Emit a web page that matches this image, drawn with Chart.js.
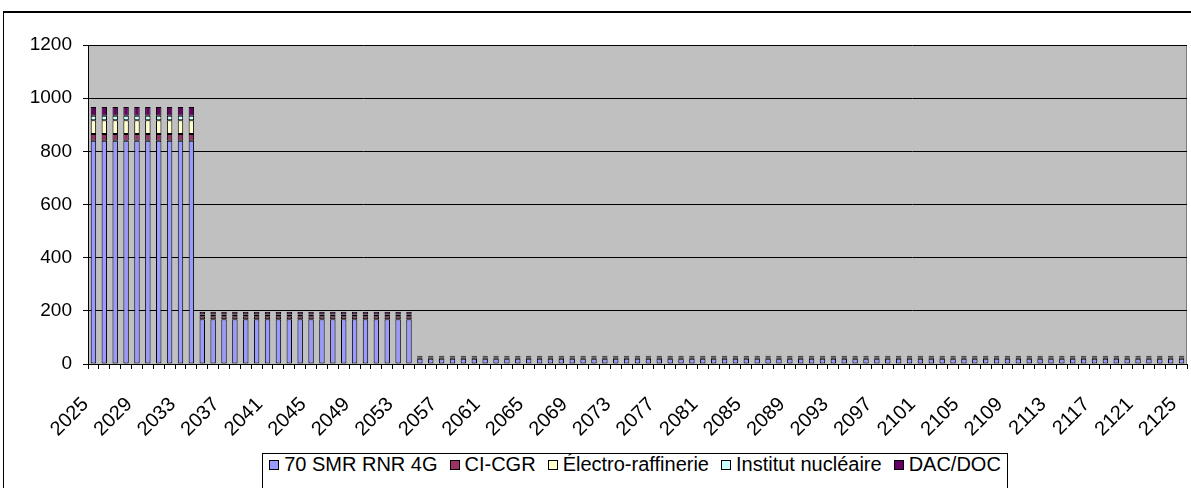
<!DOCTYPE html>
<html lang="fr">
<head>
    <meta charset="UTF-8">
    <title>Puissance</title>
    <script src="https://cdn.jsdelivr.net/npm/chart.js"></script>
    <style>
        body {
            margin: 0;
            padding: 0;
            background: #fff;
            font-family: 'Liberation Sans', Arial, sans-serif;
        }
        .frame {
            position: absolute;
            left: 3px;
            top: 11px;
            width: 1300px;
            height: 600px;
            border-left: 1px solid #000;
            border-top: 2px solid #000;
        }
        .chart-box {
            position: absolute;
            left: 0;
            top: 0;
            width: 1191px;
            height: 488px;
        }
        #legend {
            position: absolute;
            left: 262px;
            top: 453px;
            width: 744px;
            height: 60px;
            border: 1px solid #000;
            background: #fff;
            display: flex;
            justify-content: center;
            align-items: flex-start;
            font-size: 20px;
            line-height: 20px;
            color: #000;
            white-space: nowrap;
        }
        #legend .item {
            display: flex;
            align-items: center;
            margin: 0 6px;
            height: 20px;
        }
        #legend .box {
            width: 8px;
            height: 8px;
            border: 1px solid #000;
            margin-right: 5px;
            margin-top: 1px;
        }
    </style>
</head>
<body>
    <div class="frame"></div>
    <div class="chart-box">
        <canvas id="chart"></canvas>
    </div>
    <div id="legend"></div>

    <script>
        // années 2025 -> 2125
        const years = Array.from({length: 101}, (_, i) => String(2025 + i));

        const seriesNames = ['70 SMR RNR 4G', 'CI-CGR', 'Électro-raffinerie', 'Institut nucléaire', 'DAC/DOC'];
        const seriesColors = ['#9999FF', '#993366', '#FFFFCC', '#CCFFFF', '#660066'];

        const smr = [
            840, 840, 840, 840, 840, 840, 840, 840, 840, 840,
            168, 168, 168, 168, 168, 168, 168, 168, 168, 168,
            168, 168, 168, 168, 168, 168, 168, 168, 168, 168,
            20, 20, 20, 20, 20, 20, 20, 20, 20, 20,
            20, 20, 20, 20, 20, 20, 20, 20, 20, 20,
            20, 20, 20, 20, 20, 20, 20, 20, 20, 20,
            20, 20, 20, 20, 20, 20, 20, 20, 20, 20,
            20, 20, 20, 20, 20, 20, 20, 20, 20, 20,
            20, 20, 20, 20, 20, 20, 20, 20, 20, 20,
            20, 20, 20, 20, 20, 20, 20, 20, 20, 20,
            20
        ];
        const cicgr = [
            25, 25, 25, 25, 25, 25, 25, 25, 25, 25,
            12, 12, 12, 12, 12, 12, 12, 12, 12, 12,
            12, 12, 12, 12, 12, 12, 12, 12, 12, 12,
            4, 4, 4, 4, 4, 4, 4, 4, 4, 4,
            4, 4, 4, 4, 4, 4, 4, 4, 4, 4,
            4, 4, 4, 4, 4, 4, 4, 4, 4, 4,
            4, 4, 4, 4, 4, 4, 4, 4, 4, 4,
            4, 4, 4, 4, 4, 4, 4, 4, 4, 4,
            4, 4, 4, 4, 4, 4, 4, 4, 4, 4,
            4, 4, 4, 4, 4, 4, 4, 4, 4, 4,
            4
        ];
        const electro = [
            52, 52, 52, 52, 52, 52, 52, 52, 52, 52,
            4, 4, 4, 4, 4, 4, 4, 4, 4, 4,
            4, 4, 4, 4, 4, 4, 4, 4, 4, 4,
            2, 2, 2, 2, 2, 2, 2, 2, 2, 2,
            2, 2, 2, 2, 2, 2, 2, 2, 2, 2,
            2, 2, 2, 2, 2, 2, 2, 2, 2, 2,
            2, 2, 2, 2, 2, 2, 2, 2, 2, 2,
            2, 2, 2, 2, 2, 2, 2, 2, 2, 2,
            2, 2, 2, 2, 2, 2, 2, 2, 2, 2,
            2, 2, 2, 2, 2, 2, 2, 2, 2, 2,
            2
        ];
        const institut = [
            17, 17, 17, 17, 17, 17, 17, 17, 17, 17,
            2, 2, 2, 2, 2, 2, 2, 2, 2, 2,
            2, 2, 2, 2, 2, 2, 2, 2, 2, 2,
            1, 1, 1, 1, 1, 1, 1, 1, 1, 1,
            1, 1, 1, 1, 1, 1, 1, 1, 1, 1,
            1, 1, 1, 1, 1, 1, 1, 1, 1, 1,
            1, 1, 1, 1, 1, 1, 1, 1, 1, 1,
            1, 1, 1, 1, 1, 1, 1, 1, 1, 1,
            1, 1, 1, 1, 1, 1, 1, 1, 1, 1,
            1, 1, 1, 1, 1, 1, 1, 1, 1, 1,
            1
        ];
        const dacdoc = [
            33, 33, 33, 33, 33, 33, 33, 33, 33, 33,
            11, 11, 11, 11, 11, 11, 11, 11, 11, 11,
            11, 11, 11, 11, 11, 11, 11, 11, 11, 11,
            4, 4, 4, 4, 4, 4, 4, 4, 4, 4,
            4, 4, 4, 4, 4, 4, 4, 4, 4, 4,
            4, 4, 4, 4, 4, 4, 4, 4, 4, 4,
            4, 4, 4, 4, 4, 4, 4, 4, 4, 4,
            4, 4, 4, 4, 4, 4, 4, 4, 4, 4,
            4, 4, 4, 4, 4, 4, 4, 4, 4, 4,
            4, 4, 4, 4, 4, 4, 4, 4, 4, 4,
            4
        ];

        const yTicks = [0, 200, 400, 600, 800, 1000, 1200];

        const allSeries = [smr, cicgr, electro, institut, dacdoc];

        const datasets = allSeries.map((values, i) => ({
            label: seriesNames[i],
            data: values,
            backgroundColor: seriesColors[i],
            borderColor: '#000',
            borderWidth: 1,
            borderSkipped: false,
            barPercentage: 0.5,
            categoryPercentage: 1.0
        }));

        // fond gris de la zone de tracé
        const plotBackground = {
            id: 'plotBackground',
            beforeDraw(chart) {
                const {ctx, chartArea: a} = chart;
                ctx.save();
                ctx.fillStyle = '#C0C0C0';
                ctx.fillRect(a.left, a.top, a.right - a.left, a.bottom - a.top);
                ctx.strokeStyle = '#808080';
                ctx.lineWidth = 1;
                ctx.beginPath();
                ctx.moveTo(a.right - 0.5, a.top);
                ctx.lineTo(a.right - 0.5, a.bottom);
                ctx.stroke();
                ctx.restore();
            }
        };

        const fontFamily = "'Liberation Sans', Arial, sans-serif";

        new Chart(document.getElementById('chart'), {
            type: 'bar',
            data: {labels: years, datasets: datasets},
            options: {
                responsive: true,
                maintainAspectRatio: false,
                animation: false,
                layout: {padding: {top: 45, right: 4, left: 0, bottom: 0}},
                plugins: {
                    legend: {display: false},
                    tooltip: {enabled: false}
                },
                scales: {
                    x: {
                        stacked: true,
                        grid: {
                            offset: true,
                            drawOnChartArea: false,
                            color: '#000',
                            tickLength: 5
                        },
                        border: {color: '#000', width: 1},
                        ticks: {
                            autoSkip: false,
                            maxRotation: 45,
                            minRotation: 45,
                            padding: 16,
                            color: '#000',
                            font: {family: fontFamily, size: 20},
                            // deux espaces : le texte finit un peu à gauche du repère
                            callback: function(value, index) {
                                return index % 4 === 0 ? years[index] + '  ' : '';
                            }
                        },
                        afterFit: function(scale) {
                            scale.height = 124;
                            scale.paddingRight = 0;
                        }
                    },
                    y: {
                        stacked: true,
                        min: 0,
                        max: 1200,
                        afterBuildTicks: function(scale) {
                            scale.ticks = yTicks.map(v => ({value: v}));
                        },
                        grid: {
                            color: '#000',
                            tickLength: 5
                        },
                        border: {color: '#000', width: 1},
                        ticks: {
                            padding: 11,
                            color: '#000',
                            font: {family: fontFamily, size: 19},
                            callback: function(value) { return String(value); }
                        },
                        afterFit: function(scale) { scale.width = 88; }
                    }
                }
            },
            plugins: [plotBackground]
        });

        // légende
        const legend = document.getElementById('legend');
        seriesNames.forEach((name, i) => {
            const item = document.createElement('div');
            item.className = 'item';
            const box = document.createElement('span');
            box.className = 'box';
            box.style.background = seriesColors[i];
            const txt = document.createElement('span');
            txt.textContent = name;
            item.appendChild(box);
            item.appendChild(txt);
            legend.appendChild(item);
        });
    </script>
</body>
</html>
